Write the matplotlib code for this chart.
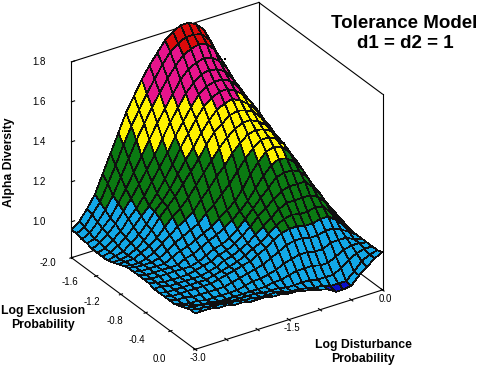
import numpy as np
import matplotlib
matplotlib.use('Agg')
import matplotlib.pyplot as plt
from matplotlib.colors import ListedColormap

plt.rcParams['font.family'] = ['Liberation Sans', 'DejaVu Sans']

# log disturbance along columns, log exclusion along rows
disturbance = np.linspace(-3.0, 0.0, 25)
exclusion = np.linspace(-2.0, 0.0, 25)

# alpha diversity
diversity = np.array([
    [.96,.99,1.04,1.10,1.19,1.28,1.37,1.46,1.53,1.60,1.66,1.71,1.76,1.79,1.81,1.81,1.79,1.75,1.67,1.56,1.46,1.38,1.31,1.26,1.22],
    [.96,.98,1.03,1.08,1.16,1.24,1.33,1.41,1.48,1.55,1.61,1.67,1.72,1.75,1.77,1.77,1.76,1.72,1.64,1.54,1.45,1.37,1.31,1.25,1.21],
    [.95,.97,1.01,1.06,1.12,1.20,1.28,1.36,1.43,1.50,1.56,1.62,1.67,1.71,1.73,1.74,1.73,1.69,1.62,1.53,1.44,1.37,1.30,1.25,1.20],
    [.95,.96,1.00,1.04,1.10,1.16,1.23,1.30,1.37,1.44,1.50,1.56,1.62,1.66,1.68,1.69,1.68,1.65,1.60,1.52,1.44,1.36,1.30,1.24,1.19],
    [.94,.96,.99,1.03,1.08,1.13,1.19,1.25,1.31,1.38,1.45,1.51,1.57,1.61,1.64,1.65,1.64,1.62,1.57,1.51,1.43,1.36,1.29,1.23,1.18],
    [.94,.95,.98,1.01,1.06,1.10,1.15,1.21,1.27,1.33,1.40,1.46,1.52,1.57,1.60,1.61,1.61,1.59,1.55,1.49,1.43,1.35,1.28,1.22,1.17],
    [.94,.95,.97,1.00,1.04,1.08,1.12,1.17,1.23,1.29,1.36,1.42,1.48,1.53,1.56,1.58,1.58,1.56,1.53,1.48,1.42,1.34,1.27,1.21,1.16],
    [.94,.95,.96,.99,1.02,1.06,1.11,1.15,1.20,1.26,1.32,1.37,1.43,1.48,1.52,1.54,1.55,1.53,1.50,1.46,1.40,1.33,1.26,1.20,1.15],
    [.95,.95,.96,.98,1.01,1.05,1.10,1.14,1.18,1.23,1.28,1.33,1.39,1.44,1.47,1.50,1.51,1.50,1.48,1.44,1.39,1.32,1.25,1.18,1.13],
    [.96,.96,.96,.98,1.00,1.03,1.07,1.11,1.14,1.18,1.23,1.28,1.33,1.38,1.42,1.45,1.47,1.47,1.45,1.42,1.37,1.31,1.24,1.17,1.11],
    [.97,.96,.96,.97,.99,1.02,1.05,1.08,1.10,1.13,1.18,1.22,1.27,1.31,1.36,1.40,1.43,1.44,1.43,1.41,1.36,1.30,1.23,1.15,1.09],
    [.98,.97,.97,.97,.98,1.00,1.03,1.05,1.07,1.09,1.13,1.16,1.20,1.24,1.29,1.34,1.38,1.41,1.41,1.39,1.35,1.28,1.21,1.14,1.08],
    [.98,.97,.97,.97,.97,.99,1.01,1.02,1.04,1.06,1.08,1.11,1.14,1.17,1.22,1.28,1.33,1.37,1.38,1.37,1.33,1.27,1.19,1.12,1.07],
    [.98,.97,.97,.97,.97,.97,.99,1.00,1.02,1.04,1.06,1.08,1.11,1.14,1.18,1.23,1.28,1.32,1.34,1.33,1.30,1.25,1.18,1.10,1.05],
    [.98,.97,.97,.97,.97,.97,.97,.98,1.00,1.02,1.03,1.05,1.08,1.12,1.16,1.20,1.24,1.28,1.29,1.29,1.27,1.23,1.16,1.09,1.04],
    [.98,.97,.96,.96,.96,.96,.97,.98,.99,1.01,1.02,1.04,1.07,1.10,1.14,1.17,1.20,1.23,1.24,1.24,1.24,1.20,1.15,1.08,1.03],
    [.97,.97,.96,.96,.96,.96,.96,.97,.98,1.00,1.01,1.03,1.05,1.08,1.11,1.14,1.17,1.19,1.19,1.19,1.19,1.17,1.13,1.07,1.02],
    [.97,.96,.96,.96,.96,.96,.96,.97,.98,.99,1.00,1.02,1.04,1.06,1.09,1.12,1.14,1.15,1.14,1.14,1.15,1.14,1.10,1.05,1.01],
    [.97,.96,.96,.96,.96,.96,.96,.97,.98,.99,1.00,1.01,1.03,1.05,1.08,1.10,1.11,1.11,1.10,1.10,1.11,1.11,1.08,1.04,1.00],
    [.97,.96,.96,.95,.95,.95,.95,.95,.96,.97,.98,.99,1.00,1.02,1.04,1.06,1.07,1.07,1.06,1.06,1.07,1.07,1.05,1.03,1.00],
    [.97,.96,.95,.95,.94,.94,.94,.94,.94,.95,.96,.96,.97,.98,1.00,1.01,1.02,1.02,1.01,1.01,1.03,1.03,1.03,1.01,1.00],
    [.98,.97,.96,.95,.95,.94,.94,.94,.94,.94,.94,.94,.95,.95,.96,.97,.97,.97,.96,.96,.98,1.00,1.01,1.01,1.00],
    [.99,.98,.98,.97,.96,.96,.95,.95,.95,.95,.94,.94,.94,.93,.93,.93,.93,.92,.92,.92,.94,.97,.99,1.00,1.00],
    [1.00,.99,.99,.98,.98,.97,.97,.96,.96,.95,.95,.95,.94,.93,.93,.92,.91,.91,.895,.895,.895,.93,.97,.99,1.00],
    [1.00,1.00,1.00,.99,.99,.98,.98,.97,.97,.97,.96,.96,.95,.95,.94,.93,.92,.91,.885,.885,.89,.93,.96,.99,1.01],
])

band_edges = [0.90, 1.10, 1.35, 1.55, 1.72]
band_colors = ['#0a10c8', '#12a8e8', '#0b7a12', '#fff200', '#e8148c', '#dc0a0a']

dots_x = [-0.54, 0.0, 0.0]
dots_y = [-2.0, -1.6, 0.0]
dots_z = [1.57, 1.19, 1.01]

x_ticks = [-3.0, -2.5, -2.0, -1.5, -1.0, -0.5, 0.0]
x_labels = ['-3.0', '', '', '-1.5', '', '', '0.0']
y_ticks = [-2.0, -1.6, -1.2, -0.8, -0.4, 0.0]
y_labels = ['-2.0', '-1.6', '-1.2', '-0.8', '-0.4', '0.0']
z_ticks = [1.0, 1.2, 1.4, 1.6, 1.8]
z_labels = ['1.0', '1.2', '1.4', '1.6', '1.8']
z_floor = 0.82
z_top = 1.80

fig = plt.figure(figsize=(4.81, 3.70), dpi=100)
ax = fig.add_axes([-0.0416, -0.143, 1.0, 1.3], projection='3d', computed_zorder=False)
ax.set_proj_type('ortho')
ax.view_init(elev=29, azim=-123.2)
ax.set_box_aspect((221, 223, 221), zoom=0.785)
ax.set_xlim(-3, 0)
ax.set_ylim(0, -2)
ax.set_zlim(z_floor, z_top)
ax.set_axis_off()

# colour of each cell from its mean height
X, Y = np.meshgrid(disturbance, exclusion)
cells = (diversity[:-1, :-1] + diversity[1:, :-1] + diversity[:-1, 1:] + diversity[1:, 1:]) / 4
band = np.digitize(cells, band_edges)
cmap = ListedColormap(band_colors)
ax.plot_surface(X, Y, diversity, facecolors=cmap(band), rstride=1, cstride=1, shade=False,
                edgecolor='#101010', linewidth=0.5, antialiased=False, zorder=2)

# box
def edge(xs, ys, zs, z=1):
    ax.plot(xs, ys, zs, color='black', lw=0.8, zorder=z)

edge([-3, -3], [-2, -2], [z_floor, z_top])
edge([0, 0], [-2, -2], [z_floor, z_top])
edge([0, 0], [0, 0], [z_floor, z_top])
edge([-3, 0], [-2, -2], [z_top, z_top])
edge([0, 0], [-2, 0], [z_top, z_top])
edge([-3, 0], [-2, -2], [z_floor, z_floor])
edge([0, 0], [-2, 0], [z_floor, z_floor])
edge([-3, -3], [-2, 0], [z_floor, z_floor], 3)
edge([-3, 0], [0, 0], [z_floor, z_floor], 3)

ax.scatter(dots_x, dots_y, dots_z, s=2, c='black', marker='s', linewidths=0, depthshade=False, zorder=3)

# ticks
for v, s in zip(z_ticks, z_labels):
    edge([-3, -2.95], [-2, -2], [v, v])
    ax.text(-3.36, -2.16, v, s, fontsize=7, ha='center', va='center')
for v, s in zip(y_ticks, y_labels):
    edge([-3.025, -2.975], [v, v], [z_floor, z_floor], 3)
    ax.text(-3.45 - 0.1 * (v + 1), v - 0.03, z_floor, s, fontsize=7, ha='center', va='center')
for v, s in zip(x_ticks, x_labels):
    edge([v, v], [-0.025, 0.025], [z_floor, z_floor], 3)
    if s:
        ax.text(v - 0.1, 0.15, z_floor, s, fontsize=7, ha='center', va='center')

fig.text(404 / 481, 1 - 23 / 370, 'Tolerance Model', fontsize=13.5, fontweight='bold', ha='center', va='center')
fig.text(405 / 481, 1 - 43 / 370, 'd1 = d2 = 1', fontsize=13.5, fontweight='bold', ha='center', va='center')
fig.text(9 / 481, 1 - 162 / 370, 'Alpha Diversity', fontsize=8.8, fontweight='bold', rotation=90, ha='center', va='center')
fig.text(43 / 481, 1 - 318 / 370, 'Log Exclusion\nProbability', fontsize=8.8, fontweight='bold', ha='center', va='center')
fig.text(363 / 481, 1 - 352 / 370, 'Log Disturbance\nProbability', fontsize=8.8, fontweight='bold', ha='center', va='center')

fig.savefig('out.png', dpi=100)
